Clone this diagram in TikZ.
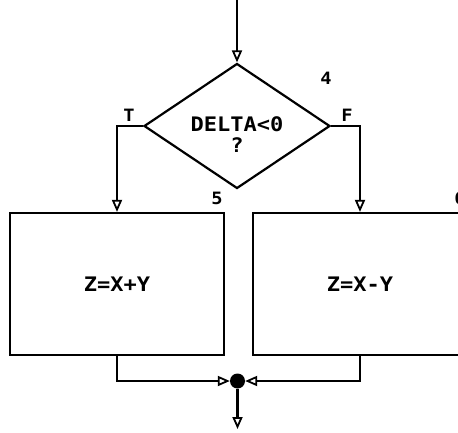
\documentclass[tikz,border=0pt]{standalone}
\usepackage{fontspec}
\setmonofont[FakeStretch=1.1]{DejaVu Sans Mono}
\usetikzlibrary{arrows.meta,positioning,shapes.geometric}
\tikzset{
  flow/.style={-{Triangle[open,length=12pt,width=10pt,line width=1.8pt]}, line width=2.2pt},
  decbox/.style={diamond, draw, line width=2.2pt, inner sep=0pt,
    minimum width=186pt, minimum height=125pt},
  procbox/.style={rectangle, draw, line width=2.2pt, inner sep=0pt,
    minimum width=214pt, minimum height=142pt, font=\plotfont},
  junction/.style={circle, fill, inner sep=0pt, minimum size=15pt},
  tag/.style={font=\tagfont, inner sep=1pt},
}
\newcommand{\plotfont}{\ttfamily\bfseries\fontsize{20}{21}\selectfont}
\newcommand{\tagfont}{\ttfamily\bfseries\fontsize{17}{18}\selectfont}

\begin{document}
\begin{tikzpicture}[x=1pt,y=-1pt]
    \useasboundingbox (0,0) rectangle (458,432);
    \clip (0,0) rectangle (458,432);
    % --- decision ---
    \coordinate (entry) at (237,0);
    \node[decbox] (dec) at (237,126) {};
    \node[font=\plotfont, align=center, inner sep=0pt] (dectext)
      at ([yshift=-9pt]dec.center) {DELTA<0\\?};
    \draw[flow] (entry) -- (dec.north);
    \node[tag] (num4) at (326,78) {4};
    \node[tag] (labT) at (129,115) {T};
    \node[tag] (labF) at (347,115) {F};
    % --- branches ---
    \node[procbox] (boxT) at (117,284) {Z=X+Y};
    \node[procbox] (boxF) at (360,284) {Z=X-Y};
    \node[tag] (num5) at (217,198) {5};
    \node[tag] (num6) at (460,198) {6};
    \draw[flow] (dec.west) -| (boxT.north);
    \draw[flow] (dec.east) -| (boxF.north);
    % --- join ---
    \node[junction] (join) at (237.5,381) {};
    \coordinate (exit) at (237.5,429);
    \draw[flow] (boxT.south) |- (join);
    \draw[flow] (boxF.south) |- (join);
    \draw[flow] (join) -- (exit);
  \end{tikzpicture}
\end{document}
